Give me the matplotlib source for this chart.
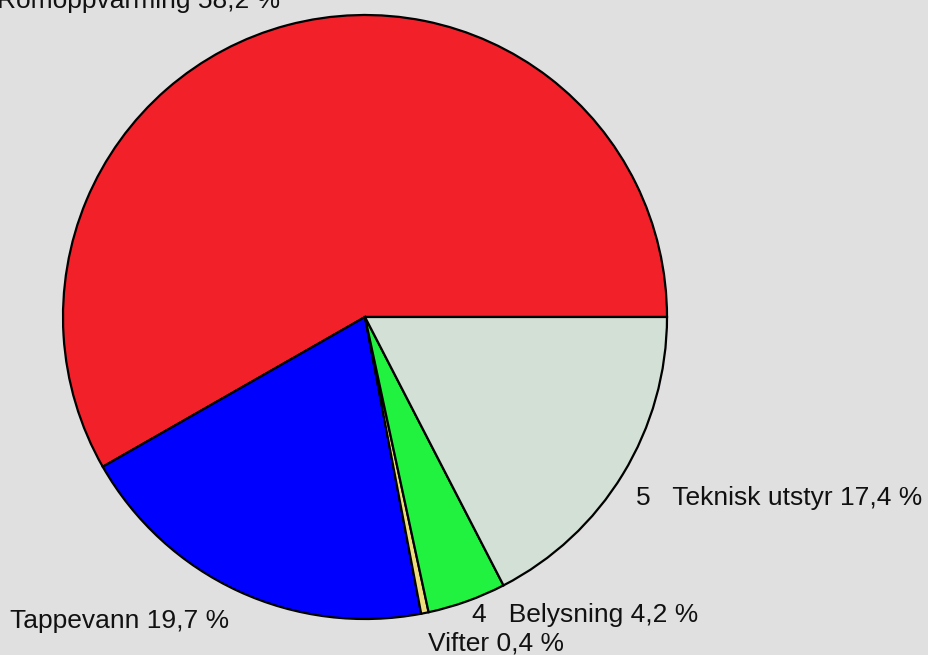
import matplotlib.pyplot as plt

# energy budget shares, percent
categories = ["Romoppvarming", "Tappevann", "Vifter", "Belysning", "Teknisk utstyr"]
shares = [58.2, 19.7, 0.4, 4.2, 17.4]
numbers = ["", "", "", "4", "5"]
colors = ["#f22129", "#0000ff", "#eedd7a", "#21f23f", "#d3e0d5"]

W, H = 929, 655
bg = "#e0e0e0"

fig = plt.figure(figsize=(W / 100, H / 100), dpi=100, facecolor=bg)
ax = fig.add_axes([0, 0, 1, 1])
ax.set_facecolor(bg)
ax.set_xlim(0, W)
ax.set_ylim(0, H)
ax.set_aspect("equal")
ax.axis("off")

ax.pie(shares, colors=colors, startangle=0, counterclock=True,
       center=(365, H - 317), radius=302, frame=True,
       wedgeprops=dict(edgecolor="black", linewidth=1.6))
ax.set_xlim(0, W)
ax.set_ylim(0, H)
ax.axis("off")


def label_text(i):
    val = f"{shares[i]:.1f}".replace(".", ",")
    txt = f"{categories[i]} {val} %"
    if numbers[i]:
        txt = numbers[i] + "   " + txt
    return txt


# label anchors: left edge, baseline (pixels from top)
anchors = [(-3, 8), (10, 628), (428, 650), (472, 622), (636, 505)]
for i, (x, y) in enumerate(anchors):
    ax.text(x, H - y, label_text(i), fontsize=19, family="Liberation Sans",
            ha="left", va="baseline", color="#111111")

fig.savefig("out.png", dpi=100, facecolor=bg)
